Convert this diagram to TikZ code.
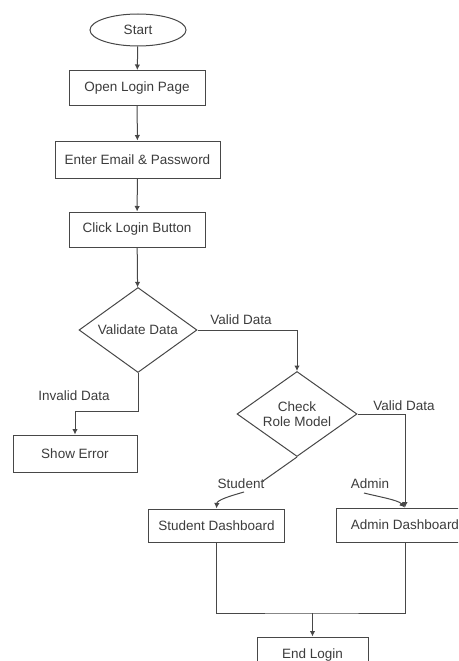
\documentclass[tikz,border=0pt]{standalone}
\usepackage{fontspec}
\setmainfont{Liberation Sans}
\usetikzlibrary{shapes.geometric, arrows.meta}
\definecolor{ink}{HTML}{3C3C3C}
\definecolor{edge}{HTML}{474747}

\begin{document}
\begin{tikzpicture}[x=1pt, y=-1pt,
  every node/.style={font=\fontsize{13.5}{14.5}\selectfont, text=ink},
  box/.style={draw=edge, line width=1pt, fill=white, rectangle, inner sep=0pt},
  decision/.style={draw=edge, line width=1pt, fill=white, diamond, aspect=1.4, inner sep=0pt, align=center},
  terminal/.style={draw=edge, line width=1pt, fill=white, ellipse, inner sep=0pt},
  flow/.style={draw=edge, line width=1pt, -{Latex[length=5.5pt,width=5.5pt]}},
  link/.style={draw=edge, line width=1pt},
  lab/.style={inner sep=1pt}]

\useasboundingbox (0,0) rectangle (458,661);
\clip (0,0) rectangle (458,661);

% main column
\node[terminal, minimum width=96pt, minimum height=32pt] (start) at (138,30) {Start};
\node[box, minimum width=136pt, minimum height=35pt] (open) at (137,88) {Open Login Page};
\node[box, minimum width=165pt, minimum height=37pt] (enter) at (137.5,159.5) {Enter Email \& Password};
\node[box, minimum width=136pt, minimum height=35pt] (click) at (137,229.5) {Click Login Button};
\node[decision, minimum width=118pt, minimum height=85pt] (validate) at (138,330) {Validate Data};

% branches
\node[box, minimum width=124pt, minimum height=37pt] (showerr) at (75,453.5) {Show Error};
\node[decision, minimum width=120pt, minimum height=85pt] (check) at (297,414) {Check\\Role Model};
\node[box, minimum width=136pt, minimum height=33pt] (student) at (216.5,525.5) {Student Dashboard};
\node[box, minimum width=138pt, minimum height=34pt] (admin) at (405,525) {Admin Dashboard};
\node[box, minimum width=111pt, minimum height=36pt] (endlogin) at (312.5,655) {End Login};

% edge labels
\node[lab] (lvalid) at (241,320) {Valid Data};
\node[lab] (linvalid) at (74,396) {Invalid Data};
\node[lab] (lvalid2) at (404,406) {Valid Data};
\node[lab] (lstudent) at (241,484) {Student};
\node[lab] (ladmin) at (370,484) {Admin};

% connectors
\draw[flow] (start) -- (open);
\draw[flow] (open) -- (enter);
\draw[flow] (enter) -- (click);
\draw[flow] (click) -- (validate);
\draw[flow] (validate.east) -| (check.north);
\coordinate (vbend) at (138,411);
\draw[flow] (validate.south) -- (vbend) -| (showerr.north);
\draw[flow] (check.east) -| (admin.north);

\coordinate (sline) at (263,481);
\coordinate (scurve) at (244,492);
\draw[link] (check.south) -- (sline);
\draw[flow] (scurve) .. controls (230,496) and (217,500) .. (student.north);
\coordinate (acurve) at (364,493);
\draw[flow] (acurve) .. controls (380,497) and (398,500) .. (admin.north);

\coordinate (join) at (312.5,613);
\draw[link] (student.south) |- (join) -| (admin.south);
\draw[flow] (join) -- (endlogin.north);
\end{tikzpicture}
\end{document}
